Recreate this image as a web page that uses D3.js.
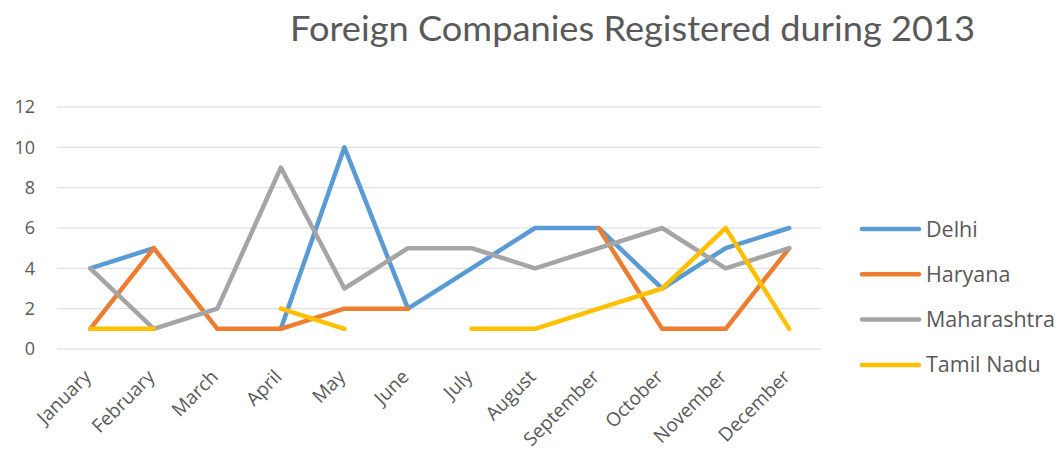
<!DOCTYPE html>
<meta charset="utf-8">
<head>
  <title>Foreign Companies Registered during 2013</title>
</head>

<style>
body {
  margin: 0;
  background: #fff;
  font-family: "Open Sans", "Noto Sans", sans-serif;
}
</style>

<body>
  <div id="chart"></div>

  <script src="https://cdnjs.cloudflare.com/ajax/libs/d3/7.8.5/d3.min.js"></script>

  <script>
// months along the x axis
var months = ['January', 'February', 'March', 'April', 'May', 'June',
  'July', 'August', 'September', 'October', 'November', 'December'];

// values per state, null where the chart has a gap
var delhi       = [4, 5, null, 1, 10, 2, 4, 6, 6, 3, 5, 6];
var haryana     = [1, 5, 1, 1, 2, 2, null, null, 6, 1, 1, 5];
var maharashtra = [4, 1, 2, 9, 3, 5, 5, 4, 5, 6, 4, 5];
var tamilNadu   = [1, 1, null, 2, 1, null, 1, 1, 2, 3, 6, 1];

var seriesNames = ['Delhi', 'Haryana', 'Maharashtra', 'Tamil Nadu'];
var seriesValues = [delhi, haryana, maharashtra, tamilNadu];
var yTicks = [0, 2, 4, 6, 8, 10, 12];

var colors = ['#5b9bd5', '#ed7d31', '#a5a5a5', '#ffc000'];

var width = 1063, height = 454;

var svg = d3.select('#chart').append('svg')
  .attr('width', width)
  .attr('height', height);

var x = d3.scaleBand()
  .domain(months)
  .range([58.5, 821]);

var y = d3.scaleLinear()
  .domain([0, 12])
  .range([349, 107]);

// title
svg.append('text')
  .attr('x', 290)
  .attr('y', 41)
  .attr('textLength', 685)
  .attr('lengthAdjust', 'spacingAndGlyphs')
  .style('font-family', 'Lato, "Open Sans", sans-serif')
  .style('font-size', '34px')
  .style('fill', '#595959')
  .text('Foreign Companies Registered during 2013');

// gridlines
svg.append('g')
  .selectAll('line')
  .data(yTicks)
  .join('line')
    .attr('x1', 57)
    .attr('x2', 821)
    .attr('y1', d => y(d))
    .attr('y2', d => y(d))
    .attr('stroke', '#d9d9d9')
    .attr('stroke-width', 1);

// y axis labels (no domain line, no ticks)
var yAxis = svg.append('g')
  .attr('transform', 'translate(35,0)')
  .call(d3.axisLeft(y).tickValues(yTicks).tickSize(0).tickPadding(0));
yAxis.select('.domain').remove();
yAxis.selectAll('text')
  .style('font-family', '"Open Sans", sans-serif')
  .style('font-size', '18px')
  .style('fill', '#595959');

// x axis labels, rotated
var xAxis = svg.append('g')
  .attr('transform', 'translate(0,349)')
  .call(d3.axisBottom(x).tickSize(0).tickPadding(0));
xAxis.select('.domain').remove();
xAxis.selectAll('text')
  .attr('text-anchor', 'end')
  .attr('dy', null)
  .attr('transform', 'translate(2,29) rotate(-45)')
  .style('font-family', '"Open Sans", sans-serif')
  .style('font-size', '19px')
  .style('fill', '#595959');

// lines
var line = d3.line()
  .defined(d => d != null)
  .x((d, i) => x(months[i]) + x.bandwidth() / 2)
  .y(d => y(d));

svg.append('g')
  .selectAll('path')
  .data(seriesValues)
  .join('path')
    .attr('d', d => line(d))
    .attr('fill', 'none')
    .attr('stroke', (d, i) => colors[i])
    .attr('stroke-width', 4.5)
    .attr('stroke-linejoin', 'round')
    .attr('stroke-linecap', 'round');

// legend
var legend = svg.append('g')
  .selectAll('g')
  .data(seriesNames)
  .join('g')
    .attr('transform', (d, i) => 'translate(862,' + (229 + i * 45.3) + ')');

legend.append('line')
  .attr('x1', 0)
  .attr('x2', 57)
  .attr('stroke', (d, i) => colors[i])
  .attr('stroke-width', 4.5)
  .attr('stroke-linecap', 'round');

legend.append('text')
  .attr('x', 64)
  .attr('dy', '0.35em')
  .style('font-family', '"Open Sans", sans-serif')
  .style('font-size', '21.5px')
  .style('fill', '#595959')
  .text(d => d);
  </script>
</body>
</html>
